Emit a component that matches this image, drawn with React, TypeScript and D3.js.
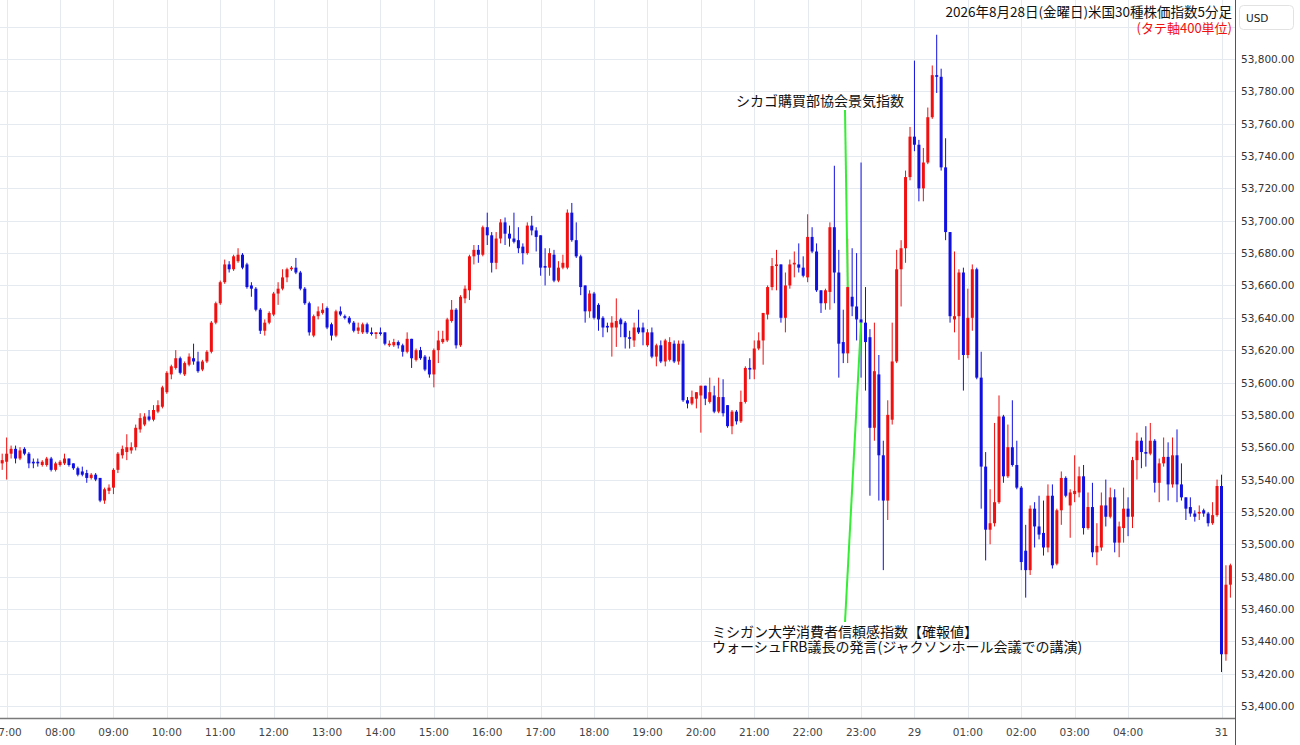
import React from "react";
import * as d3 from "d3";

// 5-minute candles, index 0 = 06:55 (Fri 28th) ... index 273 = 05:40, 274.. = Mon 31st
const openP = [
53550,53551,53556,53559,53553,53559,53556,53551,53551,53549,
53549,53553,53546,53549,53550,53553,53550,53547,53545,53544,
53541,53543,53541,53527,53533,53535,53546,53555,53557,53558,
53560,53571,53574,53579,53577,53582,53585,53594,53605,53609,
53615,53605,53611,53615,53613,53608,53613,53619,53637,53649,
53662,53673,53670,53675,53679,53673,53660,53658,53645,53632,
53637,53642,53655,53658,53665,53670,53671,53668,53658,53649,
53629,53641,53643,53646,53636,53629,53644,53641,53640,53637,
53632,53631,53636,53631,53630,53631,53631,53623,53623,53625,
53623,53619,53627,53614,53620,53616,53614,53605,53620,53625,
53626,53638,53645,53623,53652,53657,53678,53682,53679,53696,
53691,53674,53689,53699,53692,53689,53688,53684,53680,53697,
53694,53691,53672,53671,53679,53663,53671,53671,53705,53688,
53678,53660,53644,53655,53648,53640,53635,53634,53634,53639,
53637,53628,53626,53634,53634,53623,53631,53616,53623,53613,
53614,53624,53613,53624,53589,53587,53590,53592,53598,53588,
53592,53582,53591,53586,53573,53582,53576,53588,53609,53608,
53621,53626,53642,53659,53672,53673,53640,53660,53673,53673,
53671,53665,53690,53681,53657,53649,53656,53696,53668,53625,
53618,53653,53647,53639,53637,53628,53572,53605,53555,53527,
53577,53613,53670,53683,53727,53752,53747,53720,53736,53764,
53790,53789,53733,53693,53639,53641,53668,53617,53640,53670,
53603,53548,53509,53513,53526,53579,53542,53560,53549,53535,
53496,53484,53522,53511,53507,53498,53530,53488,53521,53541,
53524,53531,53532,53542,53510,53523,53495,53498,53524,53517,
53529,53501,53510,53522,53517,53552,53564,53557,53556,53564,
53538,53550,53554,53537,53555,53537,53529,53523,53519,53519,
53521,53519,53513,53518,53536,53432,53475,
];
const closeP = [
53552,53556,53559,53553,53558,53556,53550,53550,53550,53551,
53553,53546,53550,53551,53553,53549,53547,53543,53543,53541,
53543,53540,53527,53534,53535,53546,53556,53559,53560,53560,
53572,53578,53579,53577,53583,53586,53597,53606,53610,53615,
53606,53612,53616,53613,53607,53613,53619,53637,53649,53662,
53673,53670,53678,53679,53671,53659,53658,53645,53632,53637,
53643,53655,53658,53665,53670,53671,53668,53658,53649,53631,
53641,53644,53645,53634,53629,53644,53642,53640,53637,53632,
53634,53636,53631,53630,53631,53630,53624,53624,53625,53623,
53619,53627,53615,53620,53615,53608,53605,53620,53626,53627,
53639,53645,53623,53653,53658,53678,53682,53679,53696,53691,
53674,53689,53699,53692,53689,53687,53683,53680,53697,53694,
53690,53671,53671,53680,53663,53671,53674,53705,53688,53678,
53659,53644,53655,53640,53639,53634,53634,53637,53638,53636,
53628,53627,53634,53631,53631,53631,53616,53623,53613,53626,
53625,53613,53624,53589,53587,53591,53594,53598,53590,53594,
53582,53591,53581,53573,53582,53576,53588,53609,53608,53621,
53626,53643,53659,53672,53673,53640,53660,53673,53674,53671,
53666,53690,53681,53657,53649,53657,53696,53668,53624,53618,
53659,53647,53639,53637,53625,53572,53607,53555,53527,53580,
53613,53670,53683,53727,53752,53747,53720,53736,53764,53790,
53789,53733,53693,53641,53641,53668,53617,53640,53670,53603,
53548,53509,53513,53526,53579,53542,53560,53549,53535,53489,
53484,53522,53511,53506,53498,53530,53487,53521,53541,53530,
53532,53533,53542,53510,53523,53495,53499,53524,53517,53529,
53501,53511,53522,53517,53552,53564,53557,53556,53564,53538,
53550,53554,53537,53555,53537,53529,53522,53519,53517,53520,
53519,53513,53518,53536,53432,53475,53487,
];
const highP = [
53556,53566,53561,53561,53560,53560,53557,53553,53553,53552,
53554,53554,53551,53552,53556,53553,53550,53548,53548,53546,
53544,53544,53541,53535,53537,53547,53557,53561,53568,53563,
53574,53581,53581,53583,53586,53589,53598,53607,53611,53620,
53616,53613,53618,53624,53619,53614,53620,53638,53650,53663,
53676,53675,53679,53683,53680,53674,53662,53659,53646,53639,
53644,53656,53662,53670,53671,53672,53677,53669,53659,53650,
53642,53647,53649,53647,53637,53645,53647,53642,53641,53638,
53637,53637,53637,53634,53631,53634,53631,53626,53627,53626,
53624,53631,53627,53621,53622,53617,53616,53621,53632,53632,
53640,53651,53646,53654,53660,53679,53685,53685,53697,53705,
53693,53693,53701,53702,53697,53705,53696,53686,53699,53703,
53696,53691,53683,53683,53682,53675,53679,53707,53711,53699,
53679,53660,53657,53656,53649,53641,53637,53641,53652,53640,
53638,53632,53637,53645,53637,53633,53634,53624,53626,53627,
53628,53626,53626,53626,53591,53595,53594,53598,53598,53603,
53598,53603,53602,53586,53583,53583,53595,53610,53615,53626,
53631,53643,53660,53677,53682,53673,53668,53676,53681,53686,
53678,53704,53696,53686,53657,53658,53699,53734,53682,53645,
53689,53683,53680,53736,53659,53633,53637,53617,53564,53589,
53637,53682,53688,53731,53758,53799,53750,53745,53770,53796,
53815,53794,53751,53693,53681,53670,53671,53658,53673,53671,
53619,53557,53534,53575,53592,53580,53574,53589,53564,53536,
53512,53524,53526,53530,53527,53537,53537,53522,53545,53542,
53534,53555,53548,53549,53532,53538,53513,53532,53540,53535,
53534,53514,53535,53529,53554,53569,53566,53573,53575,53565,
53553,53566,53563,53566,53571,53550,53529,53529,53521,53524,
53522,53520,53526,53540,53543,53487,53488,
];
const lowP = [
53546,53540,53553,53550,53552,53555,53547,53547,53548,53548,
53548,53545,53545,53548,53549,53548,53546,53542,53542,53538,
53540,53539,53526,53525,53531,53531,53544,53553,53552,53556,
53558,53569,53573,53576,53576,53581,53584,53593,53602,53608,
53605,53604,53610,53611,53606,53607,53612,53618,53636,53648,
53661,53668,53669,53674,53670,53658,53653,53644,53630,53629,
53636,53641,53648,53657,53662,53669,53667,53657,53648,53629,
53628,53639,53642,53633,53626,53628,53641,53639,53636,53631,
53630,53630,53630,53629,53627,53629,53623,53622,53622,53621,
53616,53618,53609,53613,53614,53607,53603,53597,53612,53624,
53625,53637,53621,53622,53649,53651,53673,53674,53678,53685,
53668,53670,53686,53685,53684,53686,53680,53673,53679,53691,
53681,53666,53660,53666,53662,53662,53670,53670,53687,53677,
53654,53637,53640,53639,53632,53628,53631,53616,53622,53628,
53621,53621,53622,53630,53623,53622,53615,53610,53612,53610,
53613,53612,53611,53588,53584,53586,53584,53569,53586,53587,
53581,53581,53579,53572,53568,53574,53575,53587,53602,53602,
53620,53611,53639,53657,53657,53637,53631,53658,53665,53668,
53665,53662,53680,53656,53643,53645,53645,53649,53603,53612,
53612,53641,53626,53603,53595,53530,53564,53527,53484,53515,
53574,53612,53647,53674,53725,53743,53712,53712,53735,53763,
53779,53731,53688,53637,53631,53614,53595,53615,53632,53602,
53522,53490,53500,53511,53525,53538,53541,53548,53534,53484,
53467,53481,53498,53503,53493,53495,53485,53487,53512,53529,
53504,53526,53529,53506,53509,53492,53487,53496,53511,53516,
53495,53492,53501,53505,53510,53540,53547,53548,53555,53532,
53526,53548,53527,53535,53526,53527,53515,53517,53514,53515,
53517,53511,53512,53517,53421,53428,53467,
];

const timeLabels = ["07:00","08:00","09:00","10:00","11:00","12:00","13:00","14:00","15:00","16:00","17:00","18:00","19:00","20:00","21:00","22:00","23:00","29","01:00","02:00","03:00","04:00","31"];
const timeTickIndex = [1,13,25,37,49,61,73,85,97,109,121,133,145,157,169,181,193,205,217,229,241,253,274];
const priceTicks = [53400,53420,53440,53460,53480,53500,53520,53540,53560,53580,53600,53620,53640,53660,53680,53700,53720,53740,53760,53780,53800];
const gridPrices = [...priceTicks, 53820];

// annotation anchors: candle index and price each line points at
const annIndex = [190, 193];
const annPrice = [53659, 53637];

const UP = "#f01010";
const DOWN = "#1010e0";
const GRID = "#e4eaf0";
const CJK = "'Noto Sans CJK JP', 'Noto Sans', sans-serif";
const LAT = "'DejaVu Sans', Verdana, sans-serif";

export default function App() {
  const W = 1300, H = 745;
  const plotRight = 1235;
  const axisY = 718;
  const x = d3.scaleLinear().domain([0, 276]).range([2.2, 2.2 + 4.45 * 276]);
  const y = d3.scaleLinear().domain([53400, 53800]).range([706, 59]);
  const idx = d3.range(openP.length);
  const bw = 3;

  return (
    <svg width={W} height={H} style={{ position: "absolute", left: 0, top: 0, background: "#fff" }}>
      <defs>
        <clipPath id="plot">
          <rect x={0} y={0} width={plotRight} height={axisY} />
        </clipPath>
      </defs>
      <rect x={0} y={0} width={W} height={H} fill="#fff" />
      {/* grid */}
      <g shapeRendering="crispEdges">
        {gridPrices.map((p) => (
          <line key={"h" + p} x1={0} x2={plotRight} y1={Math.round(y(p)) + 0.5} y2={Math.round(y(p)) + 0.5} stroke={GRID} />
        ))}
        {timeTickIndex.map((i) => (
          <line key={"v" + i} x1={Math.round(x(i)) + 0.5} x2={Math.round(x(i)) + 0.5} y1={0} y2={axisY} stroke={GRID} />
        ))}
      </g>
      {/* candles */}
      <g clipPath="url(#plot)">
        {idx.map((i) => {
          const o = openP[i], c = closeP[i], h = highP[i], l = lowP[i];
          const col = c >= o ? UP : DOWN;
          const cx = x(i);
          const top = y(Math.max(o, c));
          const bot = y(Math.min(o, c));
          return (
            <g key={i}>
              <line x1={cx} x2={cx} y1={y(h)} y2={y(l)} stroke={col} strokeWidth={1} />
              <rect x={cx - bw / 2} y={top} width={bw} height={Math.max(1.2, bot - top)} fill={col} />
            </g>
          );
        })}
      </g>
      {/* annotation lines */}
      <line x1={845} y1={110} x2={x(annIndex[0])} y2={y(annPrice[0])} stroke="#33ee33" strokeWidth={2} />
      <line x1={845} y1={622} x2={x(annIndex[1])} y2={y(annPrice[1])} stroke="#33ee33" strokeWidth={2} />
      <text x={736} y={106} fontFamily={CJK} fontSize={14} fill="#111">シカゴ購買部協会景気指数</text>
      <text x={712} y={637} fontFamily={CJK} fontSize={14} fill="#111">ミシガン大学消費者信頼感指数【確報値】</text>
      <text x={712} y={652} fontFamily={CJK} fontSize={14} fill="#111">ウォーシュFRB議長の発言(ジャクソンホール会議での講演)</text>
      {/* axes */}
      <line x1={0} x2={plotRight} y1={axisY + 0.5} y2={axisY + 0.5} stroke="#7a7a7a" strokeWidth={1.5} />
      <line x1={plotRight + 0.5} x2={plotRight + 0.5} y1={0} y2={H} stroke="#555" strokeWidth={1} />
      {priceTicks.map((p) => (
        <text key={"pl" + p} x={1241} y={y(p) + 4} fontFamily={LAT} fontSize={10.5} fill="#333">
          {d3.format(",.2f")(p)}
        </text>
      ))}
      {timeTickIndex.map((i, k) => (
        <text key={"tl" + i} x={x(i)} y={736} textAnchor="middle" fontFamily={LAT} fontSize={10.5} fill="#444">
          {timeLabels[k]}
        </text>
      ))}
      {/* title */}
      <text x={1232} y={17} textAnchor="end" fontFamily={CJK} fontSize={13.5} fill="#111">
        2026年8月28日(金曜日)米国30種株価指数5分足
      </text>
      <text x={1232} y={33} textAnchor="end" fontFamily={CJK} fontSize={13} fill="#f01010">
        (タテ軸400単位)
      </text>
      <rect x={1239.5} y={5.5} width={54} height={24} rx={4} fill="#fff" stroke="#e2e2e2" />
      <text x={1246} y={21.5} fontFamily={LAT} fontSize={10.5} fill="#222">USD</text>
    </svg>
  );
}
